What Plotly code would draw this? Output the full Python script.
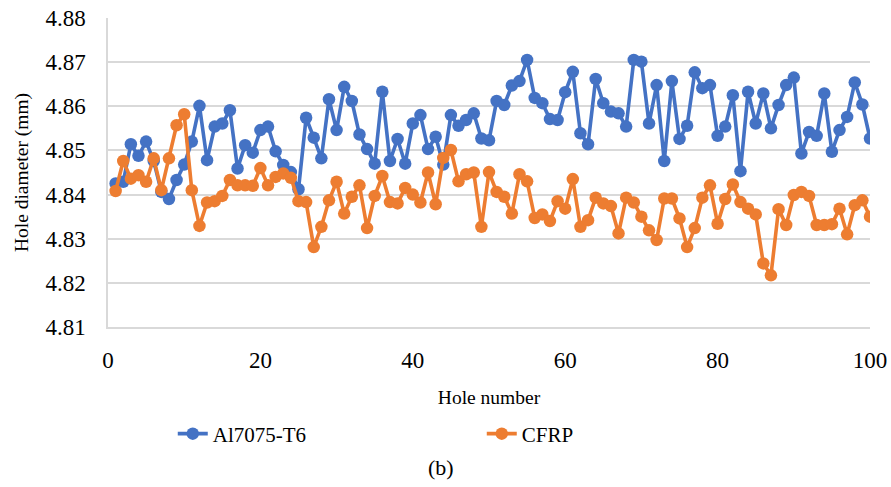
import plotly.graph_objects as go

hole_number = list(range(1, 101))

al7075_t6 = [
    4.8425, 4.8429, 4.8514, 4.8488, 4.8520, 4.8476, 4.8406, 4.8390, 4.8433, 4.8468,
    4.8520, 4.8601, 4.8478, 4.8554, 4.8561, 4.8591, 4.8459, 4.8512, 4.8495, 4.8546,
    4.8554, 4.8498, 4.8467, 4.8451, 4.8412, 4.8574, 4.8529, 4.8482, 4.8616, 4.8546,
    4.8644, 4.8612, 4.8536, 4.8503, 4.8470, 4.8633, 4.8476, 4.8526, 4.8470, 4.8561,
    4.8580, 4.8503, 4.8531, 4.8468, 4.8580, 4.8556, 4.8569, 4.8584, 4.8527, 4.8523,
    4.8612, 4.8603, 4.8647, 4.8657, 4.8705, 4.8619, 4.8607, 4.8571, 4.8569, 4.8632,
    4.8678, 4.8539, 4.8514, 4.8662, 4.8607, 4.8588, 4.8584, 4.8554, 4.8705, 4.8701,
    4.8561, 4.8648, 4.8476, 4.8657, 4.8526, 4.8556, 4.8677, 4.8641, 4.8648, 4.8533,
    4.8554, 4.8625, 4.8453, 4.8633, 4.8561, 4.8629, 4.8550, 4.8603, 4.8648, 4.8665,
    4.8493, 4.8542, 4.8533, 4.8629, 4.8497, 4.8546, 4.8576, 4.8654, 4.8604, 4.8527,
]

cfrp = [
    4.8408, 4.8476, 4.8436, 4.8444, 4.8429, 4.8482, 4.8410, 4.8482, 4.8557, 4.8582,
    4.8410, 4.8329, 4.8382, 4.8385, 4.8397, 4.8433, 4.8421, 4.8421, 4.8420, 4.8460,
    4.8421, 4.8440, 4.8448, 4.8438, 4.8385, 4.8383, 4.8281, 4.8327, 4.8387, 4.8429,
    4.8357, 4.8395, 4.8421, 4.8324, 4.8397, 4.8442, 4.8383, 4.8380, 4.8415, 4.8400,
    4.8382, 4.8450, 4.8378, 4.8483, 4.8501, 4.8430, 4.8446, 4.8450, 4.8327, 4.8451,
    4.8406, 4.8395, 4.8357, 4.8446, 4.8430, 4.8347, 4.8355, 4.8340, 4.8385, 4.8368,
    4.8435, 4.8327, 4.8342, 4.8393, 4.8380, 4.8374, 4.8312, 4.8393, 4.8382, 4.8350,
    4.8319, 4.8297, 4.8391, 4.8391, 4.8346, 4.8281, 4.8324, 4.8393, 4.8421, 4.8334,
    4.8390, 4.8423, 4.8383, 4.8368, 4.8355, 4.8244, 4.8217, 4.8367, 4.8331, 4.8399,
    4.8406, 4.8397, 4.8331, 4.8331, 4.8333, 4.8368, 4.8310, 4.8376, 4.8387, 4.8350,
]

x_ticks = [0, 20, 40, 60, 80, 100]
y_ticks = [4.81, 4.82, 4.83, 4.84, 4.85, 4.86, 4.87, 4.88]

BLUE = "#4472C4"
ORANGE = "#ED7D31"
FONT = "Liberation Serif"
TICK = dict(family=FONT, size=23, color="#000000")
TITLE = dict(family=FONT, size=19.5, color="#000000")
LEG = dict(family=FONT, size=21, color="#000000")

fig = go.Figure()
fig.add_trace(go.Scatter(
    x=hole_number, y=al7075_t6, name="Al7075-T6", mode="lines+markers",
    line=dict(color=BLUE, width=3.6),
    marker=dict(color=BLUE, size=12.5),
))
fig.add_trace(go.Scatter(
    x=hole_number, y=cfrp, name="CFRP", mode="lines+markers",
    line=dict(color=ORANGE, width=3.6),
    marker=dict(color=ORANGE, size=12.5),
))

fig.update_layout(
    width=891, height=487,
    margin=dict(l=108, r=21, t=18, b=160, autoexpand=False),
    paper_bgcolor="white", plot_bgcolor="white",
    font=TITLE,
    showlegend=True,
    legend=dict(
        orientation="h", x=0.085, xanchor="left", y=-0.28, yanchor="top",
        entrywidth=264, entrywidthmode="pixels",
        font=LEG, bgcolor="rgba(0,0,0,0)",
    ),
    xaxis=dict(
        range=[0, 100], tickvals=x_ticks, showgrid=False, zeroline=False,
        showline=True, linecolor="#D9D9D9", linewidth=1.5,
        ticks="", ticklabelstandoff=12, tickfont=TICK, automargin=False,
        title=dict(text="Hole number", font=TITLE, standoff=18),
    ),
    yaxis=dict(
        range=[4.81, 4.88], tickvals=y_ticks, tickformat=".2f",
        showgrid=True, gridcolor="#D9D9D9", gridwidth=1.5, zeroline=False,
        showline=True, linecolor="#D9D9D9", linewidth=1.5,
        ticks="", ticklabelstandoff=16, tickfont=TICK, automargin=False,
        title=dict(text="Hole diameter (mm)", font=TITLE, standoff=12),
    ),
    annotations=[dict(
        text="(b)", xref="paper", yref="paper", x=0.437, y=-0.455,
        xanchor="center", yanchor="middle", showarrow=False,
        font=dict(family=FONT, size=22, color="#000000"),
    )],
)

fig.write_html("out.html")
